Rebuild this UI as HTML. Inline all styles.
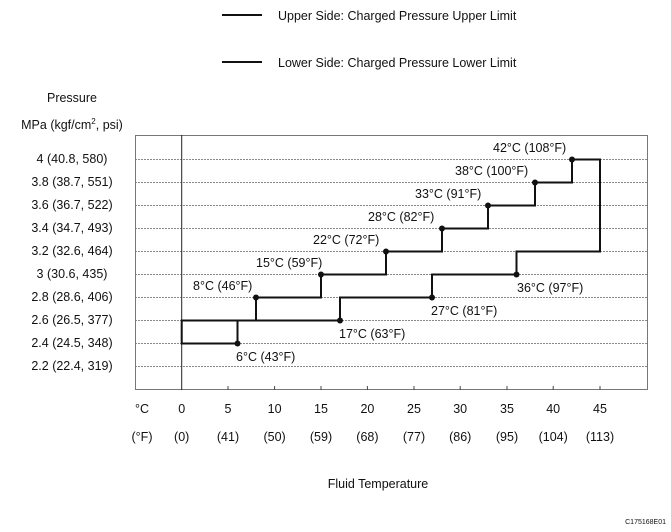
<!DOCTYPE html>
<html><head><style>
body{margin:0;background:#fff}
svg{display:block}
text{font-family:"Liberation Sans",Arial,sans-serif;fill:#111}
</style></head><body>
<svg width="671" height="532" viewBox="0 0 671 532" xmlns="http://www.w3.org/2000/svg">
<line x1="222" y1="15" x2="262" y2="15" stroke="#111" stroke-width="2"/>
<text x="278" y="20" font-size="12.5">Upper Side: Charged Pressure Upper Limit</text>
<line x1="222" y1="62" x2="262" y2="62" stroke="#111" stroke-width="2"/>
<text x="278" y="67" font-size="12.5">Lower Side: Charged Pressure Lower Limit</text>
<text x="72" y="102" font-size="12.5" text-anchor="middle">Pressure</text>
<text x="72" y="129" font-size="12.5" text-anchor="middle">MPa (kgf/cm<tspan font-size="8" dy="-5">2</tspan><tspan dy="5">, psi)</tspan></text>
<g font-size="12.5" text-anchor="middle">
<text x="72" y="163">4 (40.8, 580)</text>
<text x="72" y="186">3.8 (38.7, 551)</text>
<text x="72" y="209">3.6 (36.7, 522)</text>
<text x="72" y="232">3.4 (34.7, 493)</text>
<text x="72" y="255">3.2 (32.6, 464)</text>
<text x="72" y="278">3 (30.6, 435)</text>
<text x="72" y="301">2.8 (28.6, 406)</text>
<text x="72" y="324">2.6 (26.5, 377)</text>
<text x="72" y="347">2.4 (24.5, 348)</text>
<text x="72" y="370">2.2 (22.4, 319)</text>
</g>
<g stroke="#888" stroke-width="1" stroke-dasharray="2,1">
<line x1="135" y1="159.5" x2="648" y2="159.5"/>
<line x1="135" y1="182.5" x2="648" y2="182.5"/>
<line x1="135" y1="205.5" x2="648" y2="205.5"/>
<line x1="135" y1="228.5" x2="648" y2="228.5"/>
<line x1="135" y1="251.5" x2="648" y2="251.5"/>
<line x1="135" y1="274.5" x2="648" y2="274.5"/>
<line x1="135" y1="297.5" x2="648" y2="297.5"/>
<line x1="135" y1="320.5" x2="648" y2="320.5"/>
<line x1="135" y1="343.5" x2="648" y2="343.5"/>
<line x1="135" y1="366.5" x2="648" y2="366.5"/>
</g>
<rect x="135.5" y="135.5" width="512" height="254" fill="none" stroke="#777" stroke-width="1"/>
<line x1="181.7" y1="135" x2="181.7" y2="390" stroke="#222" stroke-width="1"/>
<g stroke="#444">
<line x1="228" y1="386" x2="228" y2="390"/><line x1="274.6" y1="386" x2="274.6" y2="390"/>
<line x1="321" y1="386" x2="321" y2="390"/><line x1="367.4" y1="386" x2="367.4" y2="390"/>
<line x1="414" y1="386" x2="414" y2="390"/><line x1="460.2" y1="386" x2="460.2" y2="390"/>
<line x1="507" y1="386" x2="507" y2="390"/><line x1="553.2" y1="386" x2="553.2" y2="390"/>
<line x1="600" y1="386" x2="600" y2="390"/>
</g>
<g fill="none" stroke="#111" stroke-width="2">
<polyline points="181.7,320.5 256,320.5 256,297.5 321,297.5 321,274.5 386,274.5 386,251.5 442,251.5 442,228.5 488,228.5 488,205.5 535,205.5 535,182.5 572,182.5 572,159.5 600,159.5 600,251.5 516.5,251.5 516.5,274.5 432,274.5 432,297.5 340,297.5 340,320.5 181.7,320.5 181.7,343.5 237.5,343.5 237.5,320.5"/>
</g>
<g fill="#111">
<circle cx="237.5" cy="343.5" r="3"/><circle cx="256" cy="297.5" r="3"/><circle cx="321" cy="274.5" r="3"/>
<circle cx="386" cy="251.5" r="3"/><circle cx="442" cy="228.5" r="3"/><circle cx="488" cy="205.5" r="3"/>
<circle cx="535" cy="182.5" r="3"/><circle cx="572" cy="159.5" r="3"/><circle cx="516.5" cy="274.5" r="3"/>
<circle cx="432" cy="297.5" r="3"/><circle cx="340" cy="320.5" r="3"/>
</g>
<g font-size="12.5">
<text x="493" y="152">42°C (108°F)</text>
<text x="455" y="175">38°C (100°F)</text>
<text x="415" y="198">33°C (91°F)</text>
<text x="368" y="221">28°C (82°F)</text>
<text x="313" y="244">22°C (72°F)</text>
<text x="256" y="267">15°C (59°F)</text>
<text x="193" y="290">8°C (46°F)</text>
<text x="517" y="292">36°C (97°F)</text>
<text x="431" y="315">27°C (81°F)</text>
<text x="339" y="338">17°C (63°F)</text>
<text x="236" y="361">6°C (43°F)</text>
</g>
<g font-size="12.5" text-anchor="middle">
<text x="142" y="413">°C</text>
<text x="181.7" y="413">0</text><text x="228" y="413">5</text><text x="274.6" y="413">10</text>
<text x="321" y="413">15</text><text x="367.4" y="413">20</text><text x="414" y="413">25</text>
<text x="460.2" y="413">30</text><text x="507" y="413">35</text><text x="553.2" y="413">40</text><text x="600" y="413">45</text>
<text x="142" y="441">(°F)</text>
<text x="181.7" y="441">(0)</text><text x="228" y="441">(41)</text><text x="274.6" y="441">(50)</text>
<text x="321" y="441">(59)</text><text x="367.4" y="441">(68)</text><text x="414" y="441">(77)</text>
<text x="460.2" y="441">(86)</text><text x="507" y="441">(95)</text><text x="553.2" y="441">(104)</text><text x="600" y="441">(113)</text>
<text x="378" y="488">Fluid Temperature</text>
</g>
<text x="666" y="524" font-size="7" text-anchor="end">C175168E01</text>
</svg>
</body></html>
